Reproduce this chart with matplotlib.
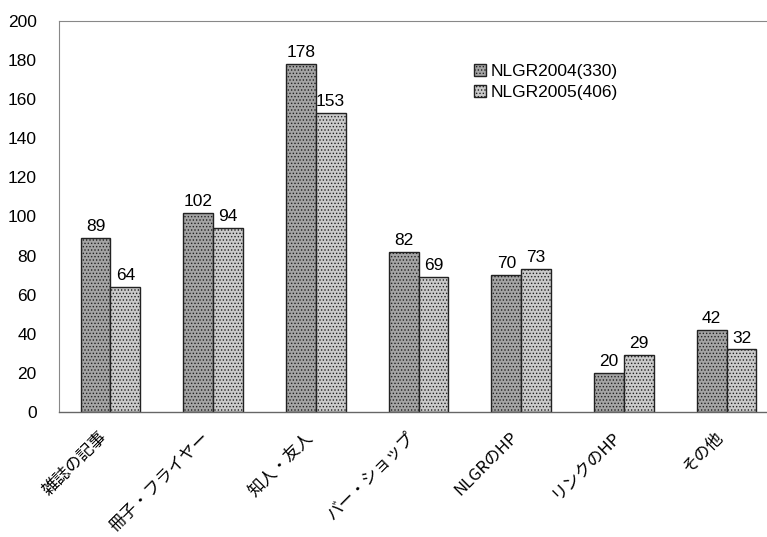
import matplotlib.pyplot as plt
import matplotlib.transforms as mtransforms
import numpy as np

plt.rcParams['font.family'] = ['Liberation Sans', 'Noto Sans CJK JP', 'DejaVu Sans']
plt.rcParams['hatch.color'] = '#555555'
plt.rcParams['hatch.linewidth'] = 0.6

categories = ['雑誌の記事', '冊子・フライヤー', '知人・友人', 'バー・ショップ', 'NLGRのHP', 'リンクのHP', 'その他']
nlgr2004 = [89, 102, 178, 82, 70, 20, 42]
nlgr2005 = [64, 94, 153, 69, 73, 29, 32]
labels = ['NLGR2004(330)', 'NLGR2005(406)']

fig = plt.figure(figsize=(7.67, 5.37), dpi=100)
ax = fig.add_axes([59 / 767, 1 - 412 / 537, 719 / 767, 391 / 537])

x = np.arange(len(categories))
w = 0.29
b1 = ax.bar(x - w / 2, nlgr2004, w, color='#a4a4a4', edgecolor='#222222', linewidth=1.0,
            hatch='.....', label=labels[0])
b2 = ax.bar(x + w / 2, nlgr2005, w, color='#cacaca', edgecolor='#222222', linewidth=1.0,
            hatch='.....', label=labels[1])

for bars in (b1, b2):
    for r in bars:
        ax.text(r.get_x() + r.get_width() / 2, r.get_height() + 2, str(int(r.get_height())),
                ha='center', va='bottom', fontsize=12.5)

ax.set_xlim(-0.5, len(categories) - 0.5)
ax.set_ylim(0, 200)
ax.set_yticks(range(0, 201, 20))
ax.tick_params(axis='y', length=0, labelsize=12.5, pad=16)
ax.tick_params(axis='x', length=0, labelsize=12, pad=12)
ax.set_xticks(x)
ax.set_xticklabels(categories, rotation=45, ha='right', va='top', rotation_mode='anchor',
                   family=['Noto Sans CJK JP', 'DejaVu Sans'])
# shift the slanted labels a little to the left of each group
shift = mtransforms.ScaledTranslation(-0.12, 0, fig.dpi_scale_trans)
for lbl in ax.get_xticklabels():
    lbl.set_transform(lbl.get_transform() + shift)

for s in ('top', 'left'):
    ax.spines[s].set_linestyle((0, (2, 1)))
    ax.spines[s].set_color('#888888')
    ax.spines[s].set_linewidth(0.8)
ax.spines['right'].set_visible(False)
ax.spines['bottom'].set_color('#666666')
ax.spines['bottom'].set_linewidth(1.0)

ax.legend(loc='upper left', bbox_to_anchor=(0.555, 0.93), frameon=False, fontsize=12.5,
          handlelength=0.7, handleheight=0.7, handletextpad=0.3, labelspacing=0.35)

fig.savefig('out.png', dpi=100)
